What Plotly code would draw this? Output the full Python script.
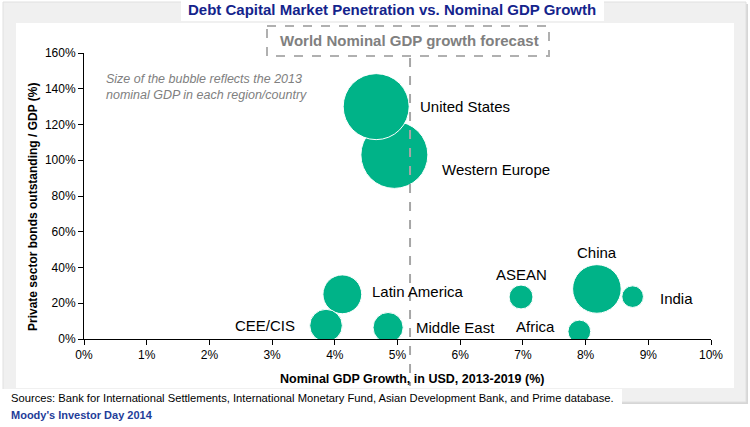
import plotly.graph_objects as go

# ---------------- data ----------------
regions = ["Western Europe", "United States", "Latin America", "CEE/CIS", "Middle East",
           "ASEAN", "China", "India", "Africa"]
gdp_growth = [4.95, 4.66, 4.12, 3.86, 4.85, 6.97, 8.18, 8.75, 7.90]          # % (x)
bond_penetration = [103, 130, 25, 7.5, 6.4, 23.5, 28, 23.7, 4.2]             # % (y)
gdp_2013 = [17.3, 16.8, 5.8, 4.1, 3.5, 2.2, 9.1, 1.8, 2.0]                   # USD trillion (bubble size)
world_growth_forecast = 5.2
x_ticks = [0, 1, 2, 3, 4, 5, 6, 7, 8, 9, 10]
y_ticks = [0, 20, 40, 60, 80, 100, 120, 140, 160]

title_text = "Debt Capital Market Penetration vs. Nominal GDP Growth"
x_title = "Nominal GDP Growth, in USD, 2013-2019 (%)"
y_title = "Private sector bonds outstanding / GDP (%)"
note_text = "Size of the bubble reflects the 2013<br>nominal GDP in each region/country"
forecast_text = "World Nominal GDP growth forecast"
sources_text = ("Sources: Bank for International Settlements, International Monetary Fund, "
                "Asian Development Bank, and Prime database.")
footer_text = "Moody's Investor Day 2014"

# label placement (pixel offsets from bubble centre; screen y down)
label_style = {
    "United States": ("left", 42, 0),
    "Western Europe": ("left", 46, 15),
    "Latin America": ("left", 28, -3),
    "CEE/CIS": ("right", -29, 0),
    "Middle East": ("left", 26, 0),
    "ASEAN": ("center", 0, -22),
    "China": ("center", 0, -36),
    "India": ("left", 25, 2),
    "Africa": ("right", -22, -5),
}

# ---------------- layout geometry ----------------
W, H = 750, 427
L, R, T, B = 84, 711, 53, 339   # plot area box, page pixels


def px(xp):
    return (xp - L) / (R - L)


def py(yp):
    return (B - yp) / (B - T)


FONT = "Arial, Liberation Sans, sans-serif"
GREEN = "#00B388"
RADIUS_US = 33.0
sizeref = gdp_2013[1] / (2 * RADIUS_US ** 2)

fig = go.Figure()
fig.add_trace(go.Scatter(
    x=gdp_growth, y=bond_penetration, mode="markers",
    marker=dict(size=gdp_2013, sizemode="area", sizeref=sizeref, color=GREEN,
                opacity=1, line=dict(color="white", width=1)),
    hoverinfo="text", text=regions, showlegend=False,
))

shapes = []
# outer grey panel with shadow
shapes.append(dict(type="rect", xref="paper", yref="paper", x0=px(5), x1=px(748), y0=py(4), y1=py(404),
                   fillcolor="#d6d6d6", line=dict(width=0), layer="below"))
shapes.append(dict(type="rect", xref="paper", yref="paper", x0=px(3), x1=px(746), y0=py(2), y1=py(402),
                   fillcolor="#f0f0f0", line=dict(color="#e0e0e0", width=1), layer="below"))
# inner white panel
shapes.append(dict(type="rect", xref="paper", yref="paper", x0=px(16), x1=px(734), y0=py(23), y1=py(388),
                   fillcolor="white", line=dict(width=0), layer="below"))
# title box
shapes.append(dict(type="rect", xref="paper", yref="paper", x0=px(181), x1=px(604), y0=py(0), y1=py(21),
                   fillcolor="white", line=dict(width=0), layer="below"))
# sources box
shapes.append(dict(type="rect", xref="paper", yref="paper", x0=px(0), x1=px(622), y0=py(389), y1=py(410),
                   fillcolor="white", line=dict(width=0), layer="below"))
# forecast dashed box
shapes.append(dict(type="rect", xref="paper", yref="paper", x0=px(267), x1=px(549), y0=py(26), y1=py(56),
                   fillcolor="rgba(0,0,0,0)", line=dict(color="#b0b0b0", width=2, dash="dash"),
                   layer="above"))
# forecast vertical line
shapes.append(dict(type="line", xref="x", yref="paper", x0=world_growth_forecast, x1=world_growth_forecast,
                   y0=py(58), y1=py(386), line=dict(color="#a6a6a6", width=2, dash="dash"), layer="above"))

annotations = []
for name, xv, yv in zip(regions, gdp_growth, bond_penetration):
    anchor, dx, dy = label_style[name]
    annotations.append(dict(x=xv, y=yv, xref="x", yref="y", text=name, showarrow=False,
                            xanchor=anchor, yanchor="middle", xshift=dx, yshift=-dy,
                            font=dict(family=FONT, size=15, color="#000000")))

annotations += [
    dict(x=px(392), y=py(10), xref="paper", yref="paper", text="<b>" + title_text + "</b>",
         showarrow=False, xanchor="center", yanchor="middle",
         font=dict(family=FONT, size=15, color="#14248C")),
    dict(x=px(409), y=py(40), xref="paper", yref="paper", text="<b>" + forecast_text + "</b>",
         showarrow=False, xanchor="center", yanchor="middle",
         font=dict(family=FONT, size=15, color="#808080")),
    dict(x=px(104), y=py(87), xref="paper", yref="paper", text="<i>" + note_text + "</i>",
         showarrow=False, xanchor="left", yanchor="middle", align="left",
         font=dict(family=FONT, size=12.5, color="#808080")),
    dict(x=px(412), y=py(379), xref="paper", yref="paper", text="<b>" + x_title + "</b>",
         showarrow=False, xanchor="center", yanchor="middle",
         font=dict(family=FONT, size=12.5, color="#000000")),
    dict(x=px(33), y=py(207), xref="paper", yref="paper", text="<b>" + y_title + "</b>",
         showarrow=False, xanchor="center", yanchor="middle", textangle=-90,
         font=dict(family=FONT, size=12, color="#000000")),
    dict(x=px(9), y=py(398), xref="paper", yref="paper", text=sources_text,
         showarrow=False, xanchor="left", yanchor="middle",
         font=dict(family=FONT, size=11.2, color="#000000")),
    dict(x=px(9), y=py(415), xref="paper", yref="paper", text="<b>" + footer_text + "</b>",
         showarrow=False, xanchor="left", yanchor="middle",
         font=dict(family=FONT, size=11, color="#1F3D99")),
]

fig.update_layout(
    width=W, height=H,
    margin=dict(l=L, r=W - R, t=T, b=H - B, pad=0),
    paper_bgcolor="white", plot_bgcolor="rgba(0,0,0,0)",
    font=dict(family=FONT, size=12, color="#000000"),
    shapes=shapes, annotations=annotations,
    showlegend=False,
)
fig.update_xaxes(range=[x_ticks[0], x_ticks[-1]], tickvals=x_ticks,
                 ticktext=[f"{v}%" for v in x_ticks], showgrid=False, zeroline=False,
                 showline=True, linecolor="black", linewidth=1, ticks="outside",
                 ticklen=5, tickcolor="black", tickfont=dict(size=12, family=FONT))
fig.update_yaxes(range=[y_ticks[0], y_ticks[-1]], tickvals=y_ticks,
                 ticktext=[f"{v}%" for v in y_ticks], showgrid=False, zeroline=False,
                 showline=True, linecolor="black", linewidth=1, ticks="outside",
                 ticklen=5, tickcolor="black", tickfont=dict(size=12, family=FONT))

fig.write_html("out.html", config={"displayModeBar": False},
               post_script="document.body.style.margin='0';document.body.style.overflow='hidden';")
